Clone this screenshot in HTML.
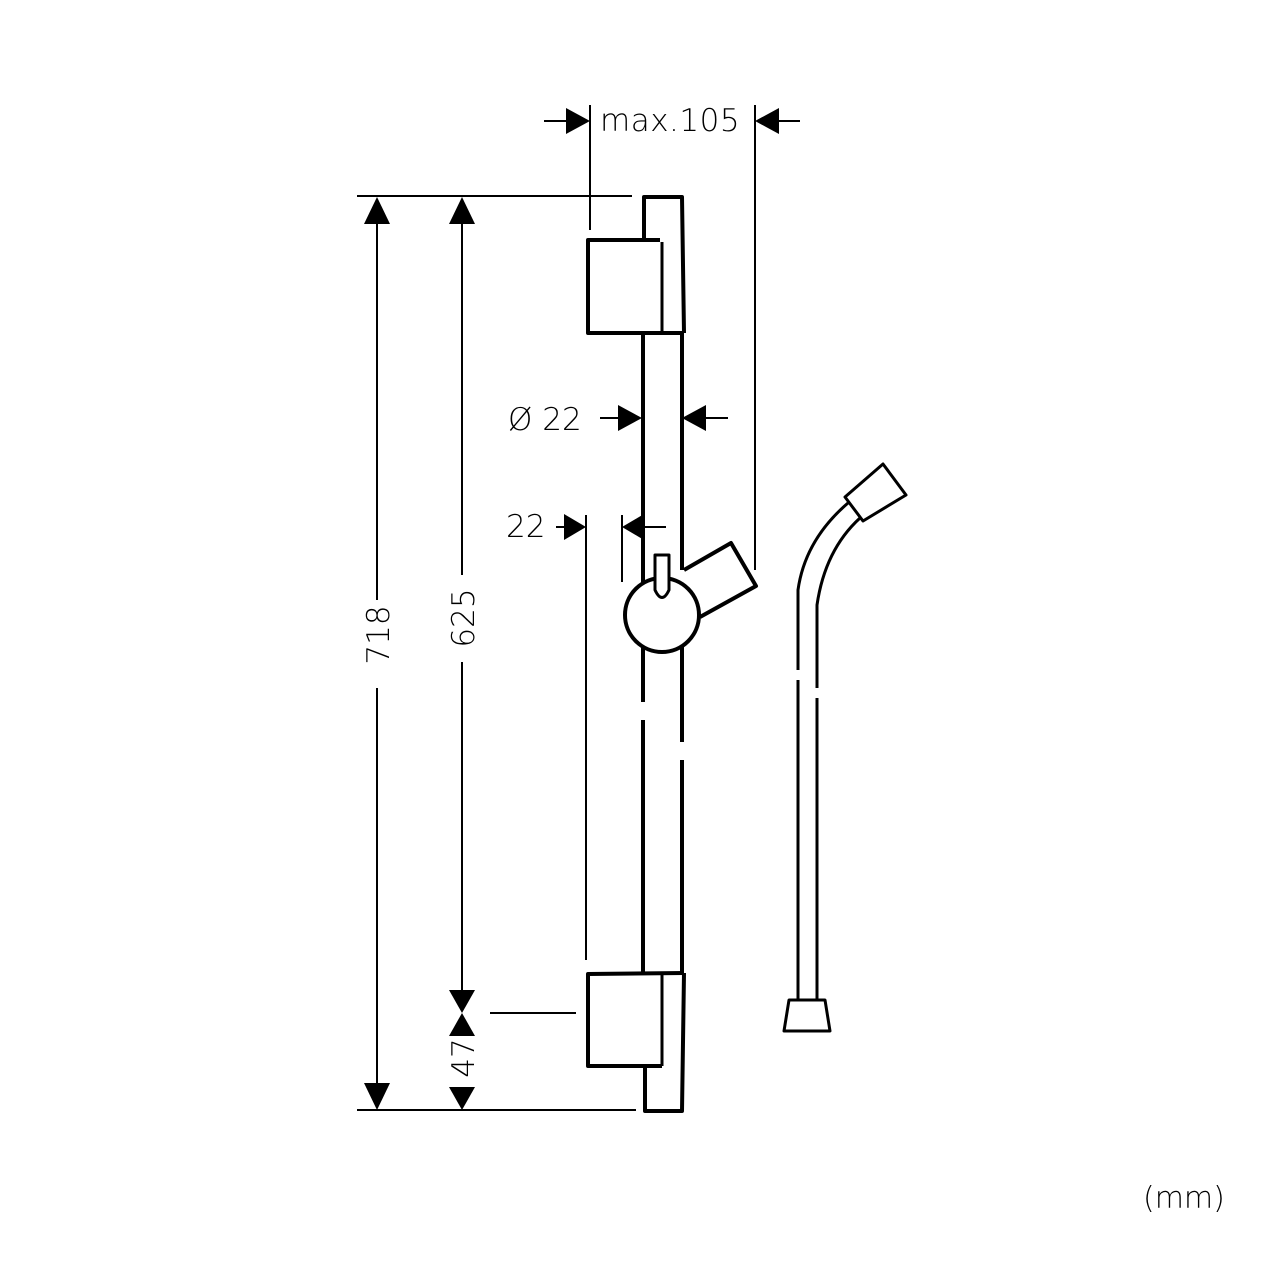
<!DOCTYPE html>
<html><head><meta charset="utf-8"><style>
html,body{margin:0;padding:0;background:#fff}
svg{display:block}
text{font-family:"DejaVu Sans","Liberation Sans",sans-serif;font-weight:200;fill:#000}
</style></head><body>
<svg width="1280" height="1280" viewBox="0 0 1280 1280" xmlns="http://www.w3.org/2000/svg">
<g stroke="#000" fill="none" stroke-width="2">
  <line x1="357" y1="196" x2="632" y2="196"/>
  <line x1="357" y1="1110" x2="636" y2="1110"/>
  <line x1="490" y1="1013" x2="576" y2="1013"/>
  <line x1="590" y1="105" x2="590" y2="230"/>
  <line x1="755" y1="105" x2="755" y2="570"/>
  <line x1="586" y1="515" x2="586" y2="960"/>
  <line x1="622" y1="515" x2="622" y2="582"/>
  <line x1="377" y1="210" x2="377" y2="600"/>
  <line x1="377" y1="688" x2="377" y2="1095"/>
  <line x1="462" y1="210" x2="462" y2="575"/>
  <line x1="462" y1="662" x2="462" y2="995"/>
  <line x1="544" y1="121" x2="570" y2="121"/>
  <line x1="775" y1="121" x2="800" y2="121"/>
  <line x1="600" y1="418" x2="620" y2="418"/>
  <line x1="700" y1="418" x2="728" y2="418"/>
  <line x1="556" y1="527" x2="566" y2="527"/>
  <line x1="640" y1="527" x2="666" y2="527"/>
</g>
<g fill="#000">
  <polygon points="377,197 364,224 390,224"/>
  <polygon points="377,1110 364,1083 390,1083"/>
  <polygon points="462,197 449,224 475,224"/>
  <polygon points="462,1013 449,990 475,990"/>
  <polygon points="462,1013 449,1036 475,1036"/>
  <polygon points="462,1110 449,1087 475,1087"/>
  <polygon points="590,121 566,108 566,134"/>
  <polygon points="755,121 779,108 779,134"/>
  <polygon points="642,418 618,405 618,431"/>
  <polygon points="682,418 706,405 706,431"/>
  <polygon points="586,527 564,514 564,540"/>
  <polygon points="622,527 644,514 644,540"/>
</g>
<g stroke="#000" fill="none" stroke-width="4" stroke-linejoin="round">
  <!-- top cap -->
  <polyline points="644,240 644,197 682,197 684,333"/>
  <!-- upper bracket -->
  <polyline points="660,240 588,240 588,333 684,333"/>
  <line x1="662" y1="242" x2="662" y2="333" stroke-width="3"/>
  <!-- rail -->
  <line x1="643" y1="333" x2="643" y2="590"/>
  <line x1="682" y1="333" x2="682" y2="570"/>
  <line x1="643" y1="640" x2="643" y2="702"/>
  <line x1="643" y1="720" x2="643" y2="973"/>
  <line x1="682" y1="640" x2="682" y2="742"/>
  <line x1="682" y1="760" x2="682" y2="973"/>
  <!-- lower bracket -->
  <polyline points="684,973 588,974 588,1066 662,1066"/>
  <line x1="662" y1="974" x2="662" y2="1066" stroke-width="3"/>
  <polyline points="645,1066 645,1111 682,1111 684,973"/>
  <!-- holder -->
  <polyline points="684,570 731,543 756,586 700,617"/>
  <!-- knob -->
  <circle cx="662" cy="615" r="37" fill="#fff"/>
  <path d="M655,590 L655,555 L669,555 L669,590 Q662,605 655,590 Z" fill="#fff" stroke-width="3"/>
  <!-- hose -->
  <path d="M798,670 L798,590 Q805,540 848,503" stroke-width="3"/>
  <path d="M817,688 L817,605 Q825,550 860,518" stroke-width="3"/>
  <line x1="798" y1="680" x2="798" y2="1000" stroke-width="3"/>
  <line x1="817" y1="698" x2="817" y2="1000" stroke-width="3"/>
  <polygon points="845,497 883,464 906,495 863,521" stroke-width="3"/>
  <polygon points="789,1000 825,1000 830,1031 784,1031" stroke-width="3"/>
</g>
<text x="600" y="131" font-size="31" letter-spacing="0.5">max.105</text>
<text x="508" y="430" font-size="31">Ø 22</text>
<text x="506" y="537" font-size="31">22</text>
<text x="1143" y="1208" font-size="30">(mm)</text>
<text transform="translate(389,635) rotate(-90)" font-size="31" text-anchor="middle">718</text>
<text transform="translate(474,618) rotate(-90)" font-size="31" text-anchor="middle">625</text>
<text transform="translate(474,1058) rotate(-90)" font-size="31" text-anchor="middle">47</text>
</svg>
</body></html>
